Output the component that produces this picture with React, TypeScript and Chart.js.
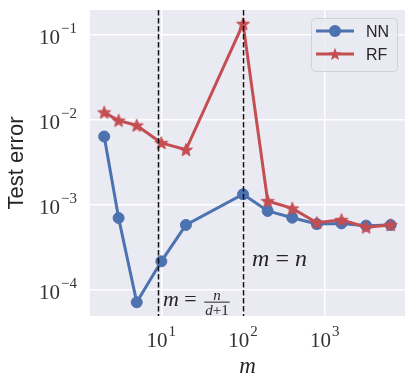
import React, { useEffect, useRef } from "react";
import { Chart, registerables } from "chart.js";

Chart.register(...registerables);

// ---- data ----
const mValues = [2, 3, 5, 10, 20, 100, 200, 400, 800, 1600, 3200, 6400];
const nnError = [6.3e-3, 6.95e-4, 7.1e-5, 2.15e-4, 5.75e-4, 1.32e-3, 8.4e-4, 7.0e-4, 5.9e-4, 6.0e-4, 5.65e-4, 5.75e-4];
const rfError = [1.21e-2, 9.7e-3, 8.5e-3, 5.3e-3, 4.4e-3, 0.133, 1.1e-3, 9.0e-4, 6.1e-4, 6.6e-4, 5.4e-4, 5.75e-4];
const seriesNames = ["NN", "RF"];
const xTickExponents = [1, 2, 3];
const yTickExponents = [-4, -3, -2, -1];
const nSamples = 100;
const dimension = 10;
const thresholds = [nSamples / (dimension + 1), nSamples];
const xLabel = "m";
const yLabel = "Test error";

const BLUE = "#4C72B0";
const RED = "#C44E52";
const TEXT = "#262626";
const SERIF = "'Liberation Serif', 'DejaVu Serif', serif";
const SANS = "'Liberation Sans', Arial, sans-serif";

function drawStarPath(ctx: CanvasRenderingContext2D, cx: number, cy: number, R: number) {
  const r = R * 0.42;
  ctx.beginPath();
  for (let i = 0; i < 10; i++) {
    const rad = i % 2 === 0 ? R : r;
    const a = -Math.PI / 2 + (i * Math.PI) / 5;
    const px = cx + rad * Math.cos(a);
    const py = cy + rad * Math.sin(a);
    if (i === 0) ctx.moveTo(px, py);
    else ctx.lineTo(px, py);
  }
  ctx.closePath();
}

function makeStar(color: string, R: number): HTMLCanvasElement {
  const c = document.createElement("canvas");
  const s = Math.ceil(R * 2 + 4);
  c.width = s;
  c.height = s;
  const ctx = c.getContext("2d")!;
  drawStarPath(ctx, s / 2, s / 2 + R * 0.08, R);
  ctx.fillStyle = color;
  ctx.fill();
  ctx.lineWidth = 1;
  ctx.strokeStyle = color;
  ctx.stroke();
  return c;
}

function isPow10(v: number) {
  const l = Math.log10(v);
  return Math.abs(l - Math.round(l)) < 1e-9;
}

function drawPow(ctx: CanvasRenderingContext2D, exp: number, x: number, yBase: number, align: "right" | "center") {
  const base = "10";
  const expStr = exp < 0 ? "\u2212" + Math.abs(exp) : String(exp);
  ctx.font = `21px ${SERIF}`;
  const wb = ctx.measureText(base).width;
  ctx.font = `15px ${SERIF}`;
  const we = ctx.measureText(expStr).width;
  const total = wb + we + 1;
  const start = align === "right" ? x - total : x - total / 2;
  ctx.textAlign = "left";
  ctx.textBaseline = "alphabetic";
  ctx.fillStyle = "#333333";
  ctx.font = `21px ${SERIF}`;
  ctx.fillText(base, start, yBase);
  ctx.font = `15px ${SERIF}`;
  ctx.fillText(expStr, start + wb + 1, yBase - 11);
}

type Piece = { t: string; italic?: boolean };
function drawPieces(ctx: CanvasRenderingContext2D, pieces: Piece[], x: number, y: number, size: number, align: "left" | "center" = "left") {
  let total = 0;
  const widths: number[] = [];
  for (const p of pieces) {
    ctx.font = `${p.italic ? "italic " : ""}${size}px ${SERIF}`;
    const w = ctx.measureText(p.t).width;
    widths.push(w);
    total += w;
  }
  let cx = align === "center" ? x - total / 2 : x;
  ctx.textAlign = "left";
  ctx.textBaseline = "alphabetic";
  pieces.forEach((p, i) => {
    ctx.font = `${p.italic ? "italic " : ""}${size}px ${SERIF}`;
    ctx.fillText(p.t, cx, y);
    cx += widths[i];
  });
  return total;
}

const customPlugin = {
  id: "customDraw",
  beforeDraw(chart: any) {
    const { ctx, chartArea: a } = chart;
    ctx.save();
    ctx.fillStyle = "#EAEAF2";
    ctx.fillRect(a.left, a.top, a.right - a.left, a.bottom - a.top);
    ctx.restore();
  },
  afterDatasetsDraw(chart: any) {
    const { ctx, chartArea: a } = chart;
    const xs = chart.scales.x;
    const ys = chart.scales.y;
    ctx.save();
    ctx.beginPath();
    ctx.rect(a.left, a.top, a.right - a.left, a.bottom - a.top);
    ctx.clip();
    // dashed threshold lines
    ctx.strokeStyle = "#111111";
    ctx.lineWidth = 1.5;
    ctx.setLineDash([5.5, 2.5]);
    for (const t of thresholds) {
      const px = Math.round(xs.getPixelForValue(t)) + 0.5;
      ctx.beginPath();
      ctx.moveTo(px, a.top);
      ctx.lineTo(px, a.bottom);
      ctx.stroke();
    }
    ctx.setLineDash([]);
    // annotations
    ctx.fillStyle = TEXT;
    const x1 = xs.getPixelForValue(thresholds[0]) + 5;
    const yb1 = ys.getPixelForValue(1e-4) + 16;
    const w = drawPieces(ctx, [{ t: "m", italic: true }, { t: " = " }], x1, yb1, 22);
    const fx0 = x1 + w + 2;
    ctx.font = `italic 15px ${SERIF}`;
    const wd = ctx.measureText("d").width;
    ctx.font = `15px ${SERIF}`;
    const wp = ctx.measureText("+1").width;
    const fw = wd + wp + 2;
    const fcx = fx0 + fw / 2;
    ctx.font = `italic 15px ${SERIF}`;
    ctx.textAlign = "center";
    ctx.fillText("n", fcx, yb1 - 6);
    ctx.fillRect(fx0, yb1 - 4, fw, 1);
    drawPieces(ctx, [{ t: "d", italic: true }, { t: "+1" }], fcx, yb1 + 9, 15, "center");
    const x2 = xs.getPixelForValue(thresholds[1]) + 9;
    const yb2 = ys.getPixelForValue(1.9e-4);
    drawPieces(ctx, [{ t: "m", italic: true }, { t: " = " }, { t: "n", italic: true }], x2, yb2, 24);
    ctx.restore();
  },
  afterDraw(chart: any) {
    const { ctx, chartArea: a } = chart;
    const xs = chart.scales.x;
    const ys = chart.scales.y;
    ctx.save();
    // tick labels
    for (const e of yTickExponents) {
      const py = ys.getPixelForValue(Math.pow(10, e));
      drawPow(ctx, e, a.left - 13, py + 9.5, "right");
    }
    for (const e of xTickExponents) {
      const px = xs.getPixelForValue(Math.pow(10, e));
      drawPow(ctx, e, px, a.bottom + 31, "center");
    }
    // axis labels
    ctx.fillStyle = TEXT;
    drawPieces(ctx, [{ t: xLabel, italic: true }], (a.left + a.right) / 2, a.bottom + 57, 23, "center");
    ctx.save();
    ctx.translate(17, (a.top + a.bottom) / 2);
    ctx.rotate(-Math.PI / 2);
    ctx.font = `22px ${SANS}`;
    ctx.textAlign = "center";
    ctx.textBaseline = "middle";
    ctx.fillText(yLabel, 0, 0);
    ctx.restore();
    // legend
    const lx = a.right - 94;
    const ly = a.top + 8;
    const lw = 86;
    const lh = 53;
    ctx.beginPath();
    ctx.roundRect(lx + 0.5, ly + 0.5, lw, lh, 4);
    ctx.fillStyle = "rgba(234,234,242,0.8)";
    ctx.fill();
    ctx.strokeStyle = "rgba(204,204,204,0.8)";
    ctx.lineWidth = 1;
    ctx.stroke();
    const colors = [BLUE, RED];
    seriesNames.forEach((name, i) => {
      const yy = ly + 13 + i * 23;
      ctx.strokeStyle = colors[i];
      ctx.lineWidth = 3;
      ctx.beginPath();
      ctx.moveTo(lx + 5, yy);
      ctx.lineTo(lx + 43, yy);
      ctx.stroke();
      ctx.fillStyle = colors[i];
      if (i === 0) {
        ctx.beginPath();
        ctx.arc(lx + 24, yy, 6, 0, Math.PI * 2);
        ctx.fill();
      } else {
        drawStarPath(ctx, lx + 24, yy + 0.6, 6.8);
        ctx.fill();
      }
      ctx.fillStyle = TEXT;
      ctx.font = `16px ${SANS}`;
      ctx.textAlign = "left";
      ctx.textBaseline = "alphabetic";
      ctx.fillText(name, lx + 55, yy + 6);
    });
    ctx.restore();
  },
};

export default function App() {
  const ref = useRef<HTMLCanvasElement>(null);
  useEffect(() => {
    if (!ref.current) return;
    const star = makeStar(RED, 6.8);
    const chart = new Chart(ref.current, {
      type: "line",
      data: {
        datasets: [
          {
            label: seriesNames[0],
            data: mValues.map((m, i) => ({ x: m, y: nnError[i] })),
            borderColor: BLUE,
            backgroundColor: BLUE,
            borderWidth: 3,
            pointRadius: 5.5,
            pointBorderWidth: 1,
            pointStyle: "circle",
            order: 1,
          },
          {
            label: seriesNames[1],
            data: mValues.map((m, i) => ({ x: m, y: rfError[i] })),
            borderColor: RED,
            backgroundColor: RED,
            borderWidth: 3,
            pointStyle: star as any,
            pointRadius: 7,
            order: 0,
          },
        ],
      },
      options: {
        animation: false,
        responsive: false,
        maintainAspectRatio: false,
        layout: { padding: { left: 90, right: 9, top: 9, bottom: 71 } },
        plugins: { legend: { display: false }, tooltip: { enabled: false } },
        scales: {
          x: {
            type: "logarithmic",
            min: 1.34,
            max: 9580,
            afterBuildTicks: (s: any) => {
              s.ticks = s.ticks.filter((t: any) => isPow10(t.value));
            },
            ticks: { display: false },
            grid: { color: "#FFFFFF", lineWidth: 1.5, drawTicks: false },
            border: { display: false },
          },
          y: {
            type: "logarithmic",
            min: 4.9e-5,
            max: 0.193,
            afterBuildTicks: (s: any) => {
              s.ticks = s.ticks.filter((t: any) => isPow10(t.value));
            },
            ticks: { display: false },
            grid: { color: "#FFFFFF", lineWidth: 1.5, drawTicks: false },
            border: { display: false },
          },
        },
      },
      plugins: [customPlugin],
    });
    return () => chart.destroy();
  }, []);
  return (
    <div style={{ position: "absolute", left: 0, top: 0, width: 415, height: 387, background: "#fff" }}>
      <canvas ref={ref} width={415} height={387} />
    </div>
  );
}
